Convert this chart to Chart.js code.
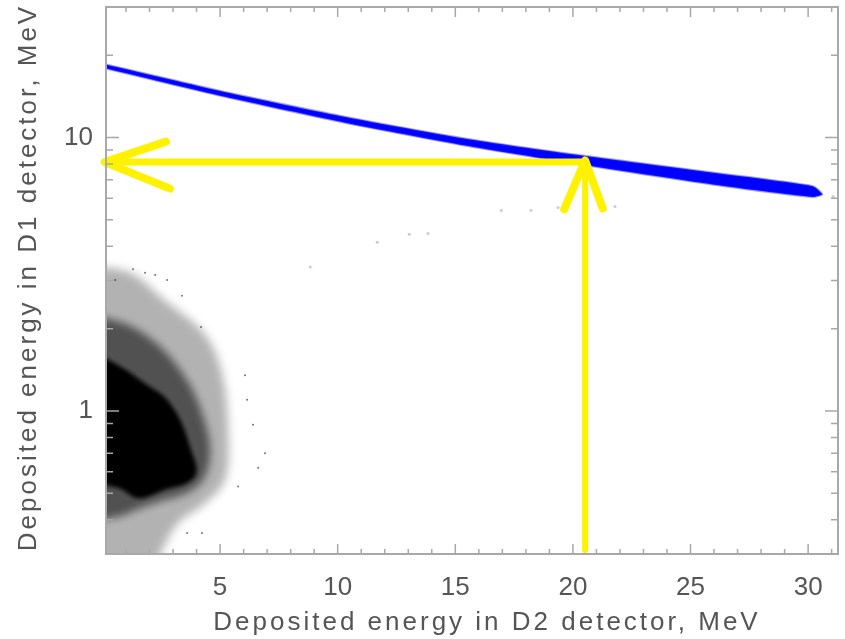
<!DOCTYPE html>
<html>
<head>
<meta charset="utf-8">
<script src="https://cdn.jsdelivr.net/npm/chart.js@4.4.1/dist/chart.umd.min.js"></script>
<style>
  html, body { margin: 0; padding: 0; background: #fff; }
  #wrap { width: 845px; height: 639px; position: relative; }
</style>
</head>
<body>
<div id="wrap"><canvas id="chart"></canvas></div>
<script>
// axis ranges and tick labels
const xRange = [0.15, 31.27];
const yRange = [0.31, 30];
const xTickValues = [5, 10, 15, 20, 25, 30];
const yTickValues = [1, 10];
const xTitle = 'Deposited energy in D2 detector, MeV';
const yTitle = 'Deposited energy in D1 detector, MeV';

// blue band (D1 vs D2 for stopped particles), upper and lower edges
const bandX = [0.15, 5.2, 10.4, 15.4, 20.0, 26.0, 30.2];
const bandUpper = [18.49, 14.68, 11.86, 9.92, 8.68, 7.43, 6.64];
const bandLower = [17.88, 14.08, 11.28, 9.35, 8.05, 6.72, 6.06];
const bandEnd = { x: 30.6, y: 6.2 };

// stray blue events below the band
const blueStrayX = [8.83, 11.68, 13.04, 13.84, 16.95, 18.22, 19.37, 21.79, 31.06];
const blueStrayY = [3.36, 4.14, 4.43, 4.46, 5.41, 5.41, 5.55, 5.59, 6.08];

// black cloud outlines: sparse halo, medium density, dense core
const haloX = [-0.4, 1.17, 2.53, 4.36, 5.09, 5.34, 5.21, 4.36, 3.21, 2.53, 2.3, -0.4];
const haloY = [3.39, 3.20, 2.59, 1.90, 1.36, 0.853, 0.562, 0.46, 0.389, 0.31, 0.28, 0.28];
const midX = [-0.4, 1.17, 2.45, 3.51, 4.15, 4.57, 4.36, 3.72, 2.45, 1.60, 0.75, -0.4];
const midY = [2.25, 2.05, 1.72, 1.33, 1.03, 0.74, 0.576, 0.508, 0.467, 0.441, 0.412, 0.395];
const coreX = [-0.4, 0.96, 1.81, 2.66, 3.30, 3.72, 4.0, 3.6, 2.66, 1.81, 1.39, 0.75, -0.4];
const coreY = [1.65, 1.42, 1.26, 1.12, 0.93, 0.74, 0.60, 0.545, 0.515, 0.482, 0.482, 0.52, 0.545];

// single black events outside the cloud
const blackStrayX = [1.30, 1.81, 2.24, 2.75, 3.38, 4.19, 6.06, 6.15, 6.40, 6.91, 6.62, 5.77, 4.23, 3.60, 0.54];
const blackStrayY = [3.30, 3.20, 3.14, 3.01, 2.64, 2.03, 1.35, 1.10, 0.89, 0.70, 0.62, 0.53, 0.358, 0.358, 3.01];

// yellow arrows
const hShaftX = [20.45, 0.1];
const hShaftY = [8.13, 8.13];
const hHeadX = [2.70, 0.1, 2.87];
const hHeadY = [9.66, 8.13, 6.50];
const vShaftX = [20.52, 20.52];
const vShaftY = [8.24, 0.31];
const vHeadX = [19.63, 20.52, 21.27];
const vHeadY = [5.46, 8.24, 5.50];

const YELLOW = '#fff200';
const AXIS_GREY = '#a8a8a8';
const TEXT_GREY = '#555555';

function pts(xs, ys) {
  return xs.map((x, i) => ({ x, y: ys[i] }));
}

const bandShape = pts(bandX, bandUpper)
  .concat([bandEnd])
  .concat(pts(bandX, bandLower).reverse());

function arrowPart(data, width) {
  return {
    data,
    showLine: true,
    borderColor: YELLOW,
    borderWidth: width,
    borderCapStyle: 'round',
    borderJoinStyle: 'round',
    pointRadius: 0,
    fill: false,
    clip: 12,
  };
}

function cloudPart(data, color, blur) {
  return {
    data,
    showLine: true,
    borderWidth: 0,
    borderColor: 'rgba(0,0,0,0)',
    backgroundColor: color,
    fill: 'shape',
    tension: 0.35,
    pointRadius: 0,
    blur,
  };
}

// soft edges: set the canvas filter before a dataset (and its fill) is drawn
function setBlur(chart, index) {
  const ds = chart.data.datasets[index];
  chart.ctx.filter = ds && ds.blur ? 'blur(' + ds.blur + 'px)' : 'none';
}

const softEdges = {
  id: 'softEdges',
  beforeDatasetsDraw(chart) {
    setBlur(chart, chart.data.datasets.length - 1);
  },
  afterDatasetDraw(chart, args) {
    setBlur(chart, args.index - 1);
  },
  afterDatasetsDraw(chart) {
    chart.ctx.filter = 'none';
  },
};

const frameAndTicks = {
  id: 'frameAndTicks',
  afterDatasetsDraw(chart) {
    const { ctx, chartArea: a, scales: { x, y } } = chart;
    ctx.save();
    ctx.filter = 'none';
    ctx.strokeStyle = AXIS_GREY;
    ctx.lineWidth = 2;
    ctx.strokeRect(a.left, a.top, a.right - a.left, a.bottom - a.top);
    ctx.lineWidth = 1.5;
    ctx.beginPath();
    for (let v = 1; v <= 31; v++) {
      const px = x.getPixelForValue(v);
      const len = v % 5 === 0 ? 10 : 5;
      ctx.moveTo(px, a.bottom);
      ctx.lineTo(px, a.bottom - len);
      ctx.moveTo(px, a.top);
      ctx.lineTo(px, a.top + len);
    }
    [0.1, 1, 10].forEach((dec) => {
      for (let m = 1; m <= 9; m++) {
        const v = m * dec;
        if (v < yRange[0] || v > yRange[1]) continue;
        const py = y.getPixelForValue(v);
        const len = m === 1 ? 13 : 7;
        ctx.moveTo(a.left, py);
        ctx.lineTo(a.left + len, py);
        ctx.moveTo(a.right, py);
        ctx.lineTo(a.right - len, py);
      }
    });
    ctx.stroke();
    ctx.restore();
  },
  afterDraw(chart) {
    const { ctx, chartArea: a } = chart;
    ctx.save();
    ctx.fillStyle = TEXT_GREY;
    ctx.font = '26px "Liberation Sans", Arial, sans-serif';
    ctx.letterSpacing = '3px';
    ctx.textAlign = 'center';
    ctx.textBaseline = 'alphabetic';
    ctx.fillText(xTitle, (a.left + a.right) / 2 + 15, 630);
    ctx.translate(36, (a.top + a.bottom) / 2 - 3);
    ctx.rotate(-Math.PI / 2);
    ctx.fillText(yTitle, 0, 0);
    ctx.restore();
  },
};

const ctx = document.getElementById('chart').getContext('2d');
new Chart(ctx, {
  type: 'scatter',
  data: {
    datasets: [
      arrowPart(pts(hHeadX, hHeadY), 8),
      arrowPart(pts(vHeadX, vHeadY), 8),
      arrowPart(pts(hShaftX, hShaftY), 7),
      arrowPart(pts(vShaftX, vShaftY), 6),
      {
        data: bandShape,
        showLine: true,
        borderColor: 'rgba(40, 40, 255, 0.45)',
        borderWidth: 2,
        backgroundColor: '#0000ff',
        fill: 'shape',
        tension: 0.2,
        pointRadius: 0,
        blur: 0.6,
      },
      {
        data: pts(blueStrayX, blueStrayY),
        pointRadius: 1.5,
        pointBorderWidth: 0,
        backgroundColor: 'rgba(90, 90, 255, 0.35)',
      },
      {
        data: pts(blackStrayX, blackStrayY),
        pointRadius: 1,
        pointBorderWidth: 0,
        backgroundColor: 'rgba(0, 0, 0, 0.55)',
      },
      cloudPart(pts(coreX, coreY), '#000000', 2),
      cloudPart(pts(midX, midY), 'rgba(0, 0, 0, 0.55)', 4),
      cloudPart(pts(haloX, haloY), 'rgba(0, 0, 0, 0.3)', 5),
    ],
  },
  options: {
    responsive: true,
    maintainAspectRatio: false,
    animation: false,
    events: [],
    layout: { padding: { top: 7, right: 7, left: 0, bottom: 0 } },
    plugins: {
      legend: { display: false },
      tooltip: { enabled: false },
    },
    scales: {
      x: {
        type: 'linear',
        min: xRange[0],
        max: xRange[1],
        border: { display: false },
        grid: { display: false, drawTicks: false },
        afterBuildTicks: (scale) => { scale.ticks = xTickValues.map((v) => ({ value: v })); },
        afterFit: (scale) => {
          scale.height = 85;
          scale.paddingLeft = 0;
          scale.paddingRight = 0;
        },
        ticks: {
          color: TEXT_GREY,
          font: { family: '"Liberation Sans", Arial, sans-serif', size: 26 },
          padding: 18,
          maxRotation: 0,
          autoSkip: false,
          callback: (v) => String(v),
        },
      },
      y: {
        type: 'logarithmic',
        min: yRange[0],
        max: yRange[1],
        border: { display: false },
        grid: { display: false, drawTicks: false },
        afterBuildTicks: (scale) => { scale.ticks = yTickValues.map((v) => ({ value: v })); },
        afterFit: (scale) => {
          scale.width = 106;
          scale.paddingTop = 0;
          scale.paddingBottom = 0;
        },
        ticks: {
          color: TEXT_GREY,
          font: { family: '"Liberation Sans", Arial, sans-serif', size: 26 },
          padding: 13,
          autoSkip: false,
          callback: (v) => String(v),
        },
      },
    },
  },
  plugins: [softEdges, frameAndTicks],
});
</script>
</body>
</html>
